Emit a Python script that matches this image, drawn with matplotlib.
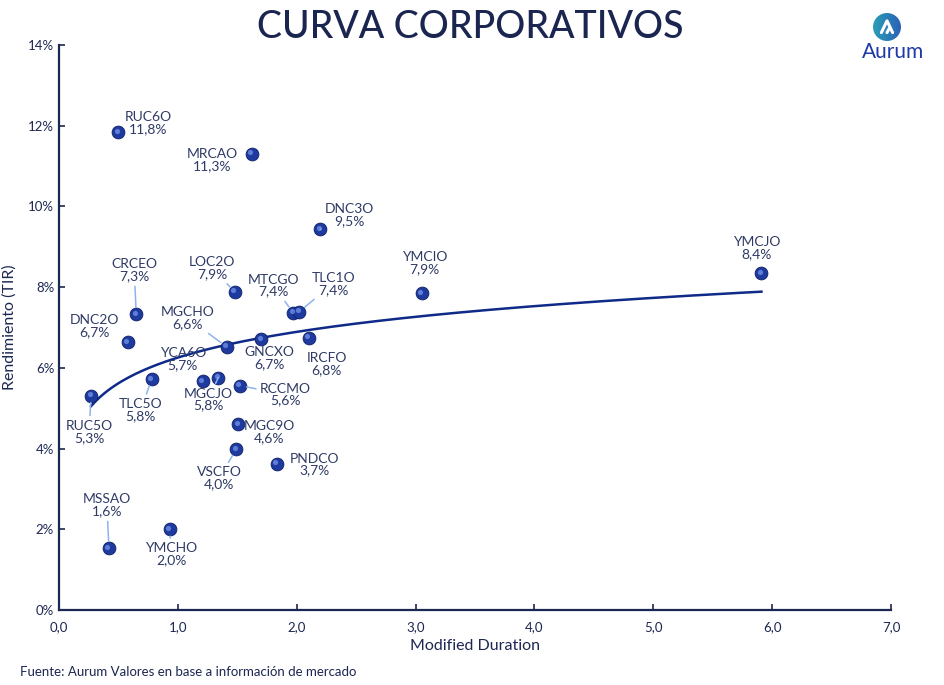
import numpy as np
import matplotlib
matplotlib.use("Agg")
import matplotlib.pyplot as plt
import matplotlib.transforms as mtransforms
from matplotlib.patches import Circle
from matplotlib.colors import LinearSegmentedColormap

plt.rcParams['font.family'] = ['Lato', 'DejaVu Sans']

# ---- data ----
names = ["RUC6O", "MRCAO", "DNC3O", "YMCJO", "YMCIO", "LOC2O", "MTCGO", "TLC1O",
         "CRCEO", "DNC2O", "MGCHO", "GNCXO", "IRCFO", "YCA6O", "MGCJO", "RCCMO",
         "TLC5O", "RUC5O", "MGC9O", "VSCFO", "PNDCO", "MSSAO", "YMCHO"]
duration = [0.50, 1.62, 2.20, 5.91, 3.05, 1.48, 1.97, 2.02,
            0.65, 0.58, 1.41, 1.70, 2.10, 1.21, 1.34, 1.52,
            0.78, 0.27, 1.51, 1.49, 1.83, 0.42, 0.93]
yields = [11.8, 11.3, 9.5, 8.4, 7.9, 7.9, 7.4, 7.4,
          7.3, 6.7, 6.6, 6.7, 6.8, 5.7, 5.8, 5.6,
          5.8, 5.3, 4.6, 4.0, 3.7, 1.6, 2.0]
plot_y = [11.84, 11.30, 9.44, 8.35, 7.85, 7.88, 7.37, 7.39,
          7.33, 6.63, 6.52, 6.71, 6.74, 5.67, 5.76, 5.56,
          5.72, 5.31, 4.60, 3.98, 3.63, 1.53, 2.00]
# label offsets in pixels (dx, dy up) and whether a leader line is drawn
label_off = [(30, 9), (-39, -6), (29, 14), (-5, 25), (3, 30), (-23, 24), (-20, 27), (34, 28),
             (-2, 44), (-33, 16), (-39, 29), (8, -19), (18, -26), (-20, 22), (-10, -22), (46, -9),
             (-11, -31), (-2, -36), (31, -8), (-17, -29), (38, -1), (-2, 43), (2, -25)]
leader = [False, False, True, False, False, True, True, True,
          True, False, True, False, False, False, True, True,
          True, True, False, True, False, True, True]

x_ticks = [0, 1, 2, 3, 4, 5, 6, 7]
y_ticks = [0, 2, 4, 6, 8, 10, 12, 14]

navy = "#1c2752"
dot_col = "#1e3a9e"
curve_col = "#0f2a88"
lead_col = "#8db3ee"

fig = plt.figure(figsize=(9.44, 6.85), dpi=100)
ax = fig.add_axes([59/944, 75/685, (891-59)/944, (610-45)/685])

# trend line (logarithmic fit of the data)
xd = np.array(duration)
yd = np.array(plot_y)
a, b = np.polyfit(np.log(xd), yd, 1)
xs = np.linspace(xd.min(), xd.max(), 300)
ax.plot(xs, a*np.log(xs) + b, color=curve_col, lw=1.8, zorder=2)

# dots
ax.scatter(xd, yd, s=85, color=dot_col, edgecolor="#0d1f66", linewidth=0.6, zorder=4)
hl = mtransforms.offset_copy(ax.transData, fig=fig, x=-1.5, y=1.5, units='dots')
ax.scatter(xd, yd, s=14, color="#6d8fe6", alpha=0.8, linewidth=0, zorder=5, transform=hl)

for n, x, yv, yl, (dx, dy), ld in zip(names, duration, plot_y, yields, label_off, leader):
    lab = f"{n}\n{yl:.1f}%".replace(".", ",")
    ax.annotate(lab, (x, yv), xytext=(dx, dy), textcoords='offset pixels',
                ha='center', va='center', fontsize=10, color="#2f3b66",
                linespacing=1.0, zorder=6,
                arrowprops=dict(arrowstyle='-', color=lead_col, lw=1.1,
                                shrinkA=1, shrinkB=5) if ld else None)

ax.set_xlim(0, 7)
ax.set_ylim(0, 14)
ax.set_xticks(x_ticks)
ax.set_yticks(y_ticks)
ax.set_xticklabels([f"{v:.1f}".replace(".", ",") for v in x_ticks])
ax.set_yticklabels([f"{v}%" for v in y_ticks])
ax.tick_params(direction='in', length=4, width=1.2, color=navy, labelcolor=navy, labelsize=9.5)
ax.tick_params(axis='x', pad=8)
for s in ["top", "right"]:
    ax.spines[s].set_visible(False)
for s in ["left", "bottom"]:
    ax.spines[s].set_color(navy)
    ax.spines[s].set_linewidth(1.6)
ax.set_xlabel("Modified Duration", fontsize=11.5, color=navy, labelpad=4)
ax.set_ylabel("Rendimiento (TIR)", fontsize=11.5, color=navy, labelpad=8)

fig.text(470/944, 1 - 27/685, "CURVA CORPORATIVOS", ha='center', va='center',
         fontsize=27, color="#1a2550", fontweight='medium')
fig.text(20/944, 1 - 672/685, "Fuente: Aurum Valores en base a información de mercado",
         ha='left', va='center', fontsize=9.5, color=navy)

# logo
lax = fig.add_axes([873/944, 1 - 41/685, 28/944, 28/685])
lax.set_xlim(0, 1)
lax.set_ylim(0, 1)
lax.axis('off')
cmap = LinearSegmentedColormap.from_list("lg", ["#2a9fb5", "#2a5fb8"])
grad = np.linspace(0, 1, 64)[None, :] * np.ones((64, 1))
im = lax.imshow(grad, cmap=cmap, extent=(0, 1, 0, 1), origin='lower', aspect='auto')
clip = Circle((0.5, 0.5), 0.5, transform=lax.transAxes)
im.set_clip_path(clip)
lax.plot([0.3, 0.5, 0.7], [0.3, 0.72, 0.3], color="white", lw=2.2,
         solid_joinstyle='round', solid_capstyle='round')
lax.plot([0.5, 0.58], [0.3, 0.45], color="white", lw=2.2, solid_capstyle='round')
fig.text(893/944, 1 - 52/685, "Aurum", ha='center', va='center', fontsize=15,
         color="#1e3aa8")

fig.savefig("out.png", dpi=100)
